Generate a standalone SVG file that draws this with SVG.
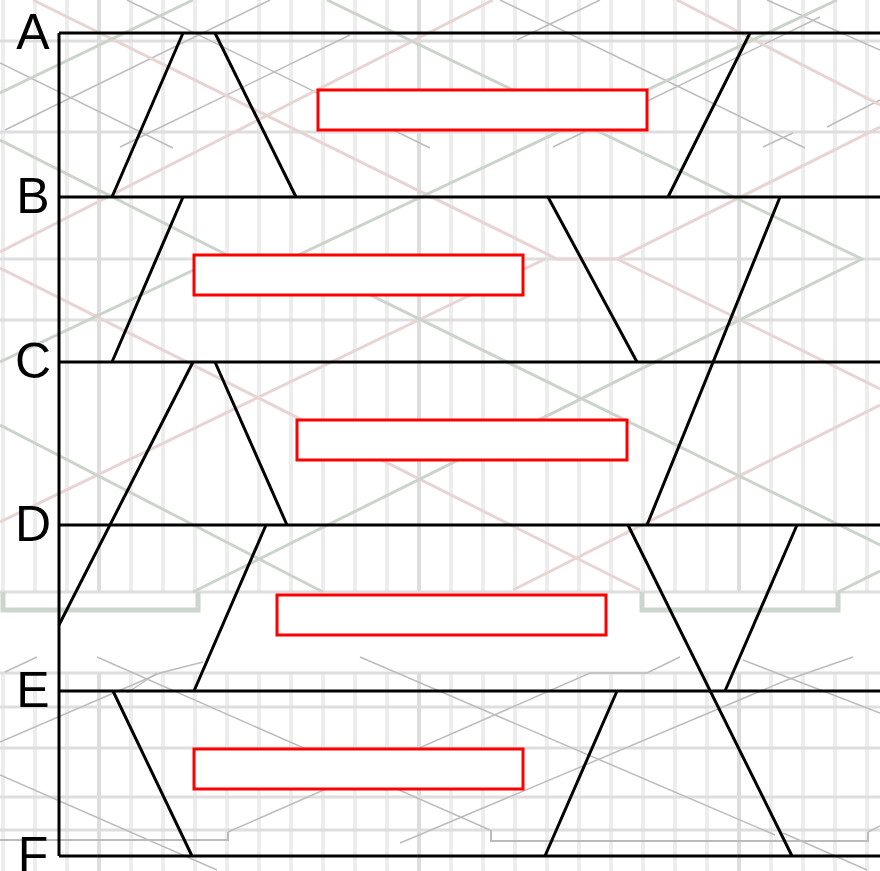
<svg xmlns="http://www.w3.org/2000/svg" width="880" height="871" viewBox="0 0 880 871">
<style>
.v{stroke:#ededed;stroke-width:4}
.vd{stroke:#dddddd;stroke-width:4}
.h{stroke:#dedede;stroke-width:3}
.g{fill:none;stroke:#bcbcbc;stroke-width:1.5}
.gr{fill:none;stroke:#cad4ca;stroke-width:3}
.pk{fill:none;stroke:#e9d4d4;stroke-width:3}
.br{fill:none;stroke:#cdd6cd;stroke-width:5}
.bg{fill:none;stroke:#bbbbbb;stroke-width:2}
.k{stroke:#000;stroke-width:3;fill:none}
.r{fill:#fff;stroke:#f00;stroke-width:3}
.lbl{font-family:"Liberation Sans",Arial,sans-serif;font-size:50px;fill:#000;text-anchor:middle}
</style>
<rect width="880" height="871" fill="#fff"/>
<g id="grid">
<g id="verticals-top">
<line class="v" x1="3" y1="0" x2="3" y2="592"/><line class="v" x1="35" y1="0" x2="35" y2="592"/><line class="v" x1="67" y1="0" x2="67" y2="592"/><line class="vd" x1="99" y1="0" x2="99" y2="592"/><line class="v" x1="131" y1="0" x2="131" y2="592"/><line class="v" x1="163" y1="0" x2="163" y2="592"/><line class="v" x1="195" y1="0" x2="195" y2="592"/><line class="v" x1="227" y1="0" x2="227" y2="592"/><line class="v" x1="259" y1="0" x2="259" y2="592"/><line class="v" x1="291" y1="0" x2="291" y2="592"/><line class="v" x1="323" y1="0" x2="323" y2="592"/><line class="v" x1="355" y1="0" x2="355" y2="592"/><line class="v" x1="387" y1="0" x2="387" y2="592"/><line class="vd" x1="419" y1="0" x2="419" y2="592"/><line class="v" x1="451" y1="0" x2="451" y2="592"/><line class="v" x1="483" y1="0" x2="483" y2="592"/><line class="v" x1="515" y1="0" x2="515" y2="592"/><line class="v" x1="547" y1="0" x2="547" y2="592"/><line class="v" x1="579" y1="0" x2="579" y2="592"/><line class="v" x1="611" y1="0" x2="611" y2="592"/><line class="v" x1="643" y1="0" x2="643" y2="592"/><line class="v" x1="675" y1="0" x2="675" y2="592"/><line class="v" x1="707" y1="0" x2="707" y2="592"/><line class="vd" x1="739" y1="0" x2="739" y2="592"/><line class="v" x1="771" y1="0" x2="771" y2="592"/><line class="v" x1="803" y1="0" x2="803" y2="592"/><line class="v" x1="835" y1="0" x2="835" y2="592"/><line class="v" x1="867" y1="0" x2="867" y2="592"/>
</g>
<g id="verticals-bottom">
<line class="v" x1="3" y1="673" x2="3" y2="871"/><line class="v" x1="35" y1="673" x2="35" y2="871"/><line class="v" x1="67" y1="673" x2="67" y2="871"/><line class="vd" x1="99" y1="673" x2="99" y2="871"/><line class="v" x1="131" y1="673" x2="131" y2="871"/><line class="v" x1="163" y1="673" x2="163" y2="871"/><line class="v" x1="195" y1="673" x2="195" y2="871"/><line class="v" x1="227" y1="673" x2="227" y2="871"/><line class="v" x1="259" y1="673" x2="259" y2="871"/><line class="v" x1="291" y1="673" x2="291" y2="871"/><line class="v" x1="323" y1="673" x2="323" y2="871"/><line class="v" x1="355" y1="673" x2="355" y2="871"/><line class="v" x1="387" y1="673" x2="387" y2="871"/><line class="vd" x1="419" y1="673" x2="419" y2="871"/><line class="v" x1="451" y1="673" x2="451" y2="871"/><line class="v" x1="483" y1="673" x2="483" y2="871"/><line class="v" x1="515" y1="673" x2="515" y2="871"/><line class="v" x1="547" y1="673" x2="547" y2="871"/><line class="v" x1="579" y1="673" x2="579" y2="871"/><line class="v" x1="611" y1="673" x2="611" y2="871"/><line class="v" x1="643" y1="673" x2="643" y2="871"/><line class="v" x1="675" y1="673" x2="675" y2="871"/><line class="v" x1="707" y1="673" x2="707" y2="871"/><line class="vd" x1="739" y1="673" x2="739" y2="871"/><line class="v" x1="771" y1="673" x2="771" y2="871"/><line class="v" x1="803" y1="673" x2="803" y2="871"/><line class="v" x1="835" y1="673" x2="835" y2="871"/><line class="v" x1="867" y1="673" x2="867" y2="871"/>
</g>
<g id="horizontals">
<line class="h" x1="0" y1="41" x2="880" y2="41"/><line class="h" x1="0" y1="132" x2="880" y2="132"/>
<line class="h" x1="0" y1="259" x2="880" y2="259"/><line class="h" x1="0" y1="320" x2="880" y2="320"/>
<line class="h" x1="0" y1="592" x2="880" y2="592"/><line class="h" x1="0" y1="673" x2="880" y2="673"/>
<line class="h" x1="0" y1="707" x2="880" y2="707"/><line class="h" x1="0" y1="748" x2="880" y2="748"/>
<line class="h" x1="0" y1="797" x2="880" y2="797"/><line class="h" x1="0" y1="830" x2="880" y2="830"/>
</g>
</g>
<g id="background-paths">
<polyline class="g" points="0,63 173,148"/>
<polyline class="g" points="5,130 270,0"/>
<polyline class="g" points="127,0 430,148"/>
<polyline class="g" points="120,147 350,35"/>
<polyline class="g" points="500,0 805,148"/>
<polyline class="g" points="553,147 820,17"/>
<polyline class="g" points="767,0 880,50"/>
<polyline class="g" points="827,127 880,100"/>
<polyline class="g" points="517,40 600,0"/>
<polyline class="g" points="763,147 793,133"/>
<polyline class="g" points="0,775 217,870"/>
<polyline class="g" points="0,742 160,673 203,662"/>
<polyline class="g" points="5,672 37,657"/>
<polyline class="g" points="97,657 490,830"/>
<polyline class="g" points="127,693 157,673"/>
<polyline class="g" points="228,832 590,673 647,673 680,657"/>
<polyline class="g" points="360,657 775,835"/>
<polyline class="g" points="400,843 787,680 853,657"/>
<polyline class="g" points="743,660 880,713"/>
<polyline class="g" points="783,833 867,870"/>
<polyline class="g" points="868,832 880,826"/>
<polyline class="bg" points="0,840 228,840 228,832"/>
<polyline class="bg" points="491,830 491,841 868,841 868,832"/>
<polyline class="pk" points="33,0 557,259 617,259 880,389"/>
<polyline class="pk" points="0,252 493,0"/>
<polyline class="pk" points="0,268 640,590"/>
<polyline class="pk" points="0,522 545,259"/>
<polyline class="pk" points="617,259 880,127"/>
<polyline class="pk" points="677,0 880,105"/>
<polyline class="pk" points="513,590 880,405"/>
<polyline class="gr" points="0,93 193,0"/>
<polyline class="gr" points="0,140 235,259 297,259 880,545"/>
<polyline class="gr" points="327,0 862,259 193,592"/>
<polyline class="gr" points="837,0 290,259 217,259 0,362"/>
<polyline class="gr" points="0,425 323,592"/>
<polyline class="gr" points="838,592 880,571"/>
<polyline class="br" points="3,592 3,610 198,610 198,592"/>
<polyline class="br" points="642,592 642,610 838,610 838,592"/>
</g>
<g id="connectors">
<line class="k" x1="183" y1="33" x2="112" y2="197"/>
<line class="k" x1="215" y1="33" x2="296" y2="197"/>
<line class="k" x1="750" y1="33" x2="668" y2="197"/>
<line class="k" x1="183" y1="197" x2="112" y2="362"/>
<line class="k" x1="548" y1="197" x2="637" y2="362"/>
<line class="k" x1="780" y1="197" x2="647" y2="525"/>
<line class="k" x1="193" y1="362" x2="59" y2="625"/>
<line class="k" x1="215" y1="362" x2="287" y2="525"/>
<line class="k" x1="266" y1="525" x2="194" y2="691"/>
<line class="k" x1="628" y1="525" x2="792" y2="856"/>
<line class="k" x1="797" y1="525" x2="725" y2="691"/>
<line class="k" x1="113" y1="691" x2="192" y2="856"/>
<line class="k" x1="617" y1="691" x2="545" y2="856"/>
</g>
<g id="A"><line class="k" x1="59" y1="33" x2="880" y2="33"/><text class="lbl" x="33" y="49">A</text></g>
<g id="B"><line class="k" x1="59" y1="197" x2="880" y2="197"/><text class="lbl" x="33" y="213">B</text></g>
<g id="C"><line class="k" x1="59" y1="362" x2="880" y2="362"/><text class="lbl" x="33" y="378">C</text></g>
<g id="D"><line class="k" x1="59" y1="525" x2="880" y2="525"/><text class="lbl" x="33" y="541">D</text></g>
<g id="E"><line class="k" x1="59" y1="691" x2="880" y2="691"/><text class="lbl" x="33" y="707">E</text></g>
<g id="F"><line class="k" x1="59" y1="856" x2="880" y2="856"/><text class="lbl" x="33" y="872">F</text></g>
<g id="axis"><line class="k" x1="59" y1="33" x2="59" y2="856"/></g>
<g id="box1"><rect class="r" x="318" y="90" width="329" height="40"/></g>
<g id="box2"><rect class="r" x="194" y="255" width="329" height="40"/></g>
<g id="box3"><rect class="r" x="297" y="420" width="330" height="40"/></g>
<g id="box4"><rect class="r" x="277" y="595" width="329" height="40"/></g>
<g id="box5"><rect class="r" x="194" y="749" width="329" height="40"/></g>
</svg>
